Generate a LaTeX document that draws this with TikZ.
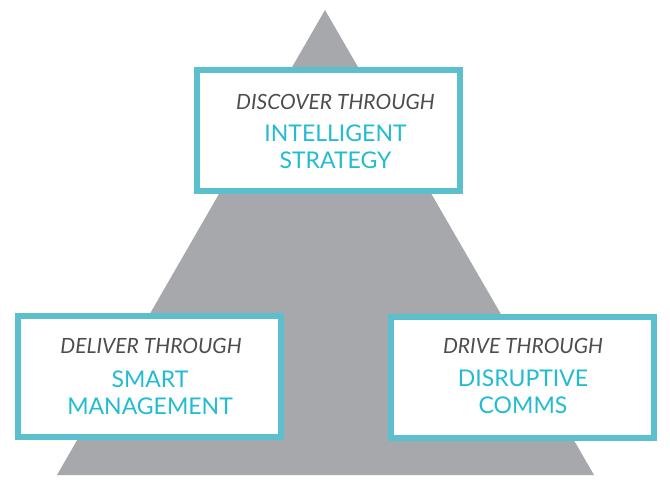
\documentclass[tikz,border=0pt]{standalone}
\usepackage{fontspec}
\setmainfont{Lato}
\definecolor{pyramidgray}{HTML}{A7A8AB}
\definecolor{frameteal}{HTML}{5BBFCD}
\definecolor{textteal}{HTML}{22BCD2}
\definecolor{textdark}{HTML}{4D4D4F}
\begin{document}
\begin{tikzpicture}[x=1pt,y=-1pt,
stage/.style={
% The shape:
rectangle,
% The size:
minimum width=263pt, minimum height=121pt,
% The border:
line width=6pt, draw=frameteal,
% The filling:
fill=white
},
verb/.style={
% Font
font=\fontsize{21}{24}\selectfont\itshape,
text=textdark, anchor=base
},
goal/.style={
% Font
font=\fontsize{23}{26.5}\selectfont,
text=textteal, align=center, anchor=base
}]
\useasboundingbox (0,0) rectangle (670,498);
% the pyramid behind
\fill [pyramidgray] (325,10) -- (594,475) -- (57,475) -- cycle;
% the three stages
\node [stage] (discover) at (328.5,130.5) {};
\node [stage] (deliver) at (149.5,376) {};
\node [stage] (drive) at (522.5,377) {};
% base of a goal is the baseline of its last line
\node [verb] (discover-how) at (335.5,109) {DISCOVER THROUGH};
\node [goal] (discover-what) at (335.5,168) {INTELLIGENT\\STRATEGY};
\node [verb] (deliver-how) at (151,353) {DELIVER THROUGH};
\node [goal] (deliver-what) at (150,414) {SMART\\MANAGEMENT};
\node [verb] (drive-how) at (523,353) {DRIVE THROUGH};
\node [goal] (drive-what) at (523,413) {DISRUPTIVE\\COMMS};
\end{tikzpicture}
\end{document}
